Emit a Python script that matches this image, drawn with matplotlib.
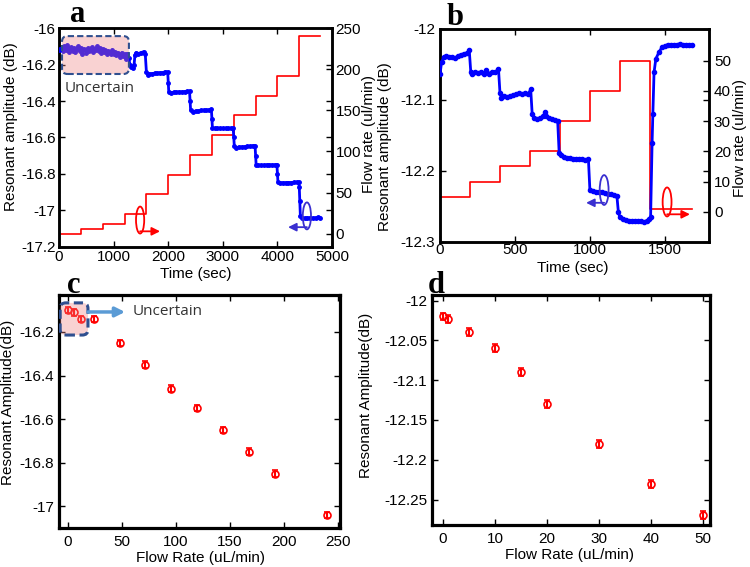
import numpy as np
import matplotlib
matplotlib.use("Agg")
import matplotlib.pyplot as plt
from matplotlib.patches import FancyBboxPatch, Ellipse
from matplotlib.ticker import FormatStrFormatter

plt.rcParams['font.family'] = ['Liberation Sans', 'DejaVu Sans']
plt.rcParams['font.size'] = 11

# ---- panel a: time trace, 0-4800 s ----
time_a = [0, 25, 50, 75, 100, 125, 150, 175, 200, 225, 250, 275, 300, 325, 350, 375,
          400, 425, 450, 475, 500, 525, 550, 575, 600, 625, 650, 675, 700, 725, 750,
          775, 800, 825, 850, 875, 900, 925, 950, 975, 1000, 1025, 1050, 1075, 1100,
          1125, 1150, 1175, 1200, 1225, 1250, 1275, 1300, 1325, 1350, 1375, 1390, 1410,
          1450, 1500, 1550, 1580, 1600, 1625, 1650, 1700, 1750, 1800, 1850, 1900, 1950,
          1990, 2000, 2010, 2050, 2100, 2150, 2200, 2250, 2300, 2350, 2390, 2400, 2410,
          2450, 2500, 2550, 2600, 2650, 2700, 2750, 2790, 2800, 2810, 2850, 2900, 2950,
          3000, 3050, 3100, 3150, 3190, 3200, 3210, 3250, 3300, 3350, 3400, 3450, 3500,
          3550, 3590, 3600, 3610, 3650, 3700, 3750, 3800, 3850, 3900, 3950, 3990, 4000,
          4010, 4050, 4100, 4150, 4200, 4250, 4300, 4350, 4390, 4400, 4410, 4420, 4450,
          4500, 4550, 4600, 4650, 4700, 4750, 4780]
amp_a = [-16.12, -16.115, -16.11, -16.125, -16.10, -16.12, -16.095, -16.13, -16.11, -16.105,
         -16.125, -16.11, -16.13, -16.115, -16.10, -16.125, -16.11, -16.14, -16.115, -16.12,
         -16.135, -16.11, -16.125, -16.12, -16.105, -16.13, -16.115, -16.12, -16.10, -16.125,
         -16.11, -16.135, -16.115, -16.13, -16.12, -16.14, -16.125, -16.13, -16.145, -16.12,
         -16.14, -16.13, -16.15, -16.135, -16.14, -16.16, -16.135, -16.155, -16.145, -16.17,
         -16.14, -16.165, -16.20, -16.215, -16.22, -16.20, -16.15, -16.135,
         -16.14, -16.135, -16.13, -16.145, -16.24, -16.255, -16.25, -16.25, -16.248, -16.247,
         -16.245, -16.244, -16.24, -16.24, -16.30, -16.35, -16.355, -16.352, -16.352, -16.35,
         -16.35, -16.348, -16.347, -16.345, -16.40, -16.45, -16.458, -16.455, -16.455, -16.452,
         -16.452, -16.45, -16.448, -16.445, -16.50, -16.548, -16.55, -16.55, -16.55, -16.55,
         -16.55, -16.55, -16.55, -16.55, -16.60, -16.645, -16.655, -16.652, -16.652, -16.65,
         -16.648, -16.648, -16.645, -16.645, -16.70, -16.748, -16.752, -16.752, -16.752, -16.75,
         -16.75, -16.75, -16.75, -16.748, -16.80, -16.845, -16.848, -16.848, -16.848, -16.847,
         -16.847, -16.846, -16.845, -16.845, -16.87, -16.95, -17.03, -17.04, -17.042, -17.04,
         -17.04, -17.042, -17.04, -17.038, -17.04]
flow_time_a = [0, 400, 800, 1200, 1600, 2000, 2400, 2800, 3200, 3600, 4000, 4400, 4780]
flow_a = [0, 6, 12, 24, 48, 72, 96, 120, 144, 168, 192, 240, 240]

# ---- panel b: time trace, 0-1680 s ----
time_b = [0, 10, 25, 40, 60, 80, 100, 120, 140, 160, 180, 195, 205, 215, 235, 255, 275, 295,
          310, 330, 350, 370, 390, 400, 410, 430, 450, 470, 490, 510, 530, 550, 570, 590,
          605, 615, 630, 650, 670, 690, 700, 710, 730, 750, 770, 785, 795, 810, 830, 850,
          870, 890, 910, 930, 950, 970, 990, 1000, 1020, 1040, 1060, 1080, 1100, 1120,
          1140, 1160, 1180, 1190, 1200, 1220, 1240, 1260, 1280, 1300, 1320, 1340, 1360,
          1380, 1395, 1405, 1415, 1420, 1428, 1440, 1460, 1480, 1500, 1520, 1540, 1560,
          1580, 1600, 1620, 1640, 1660, 1680]
amp_b = [-12.064, -12.047, -12.04, -12.038, -12.040, -12.039, -12.041, -12.038, -12.036,
         -12.035, -12.034, -12.03, -12.06, -12.064, -12.06, -12.062, -12.06, -12.063, -12.058,
         -12.063, -12.060, -12.061, -12.056, -12.09, -12.097, -12.095, -12.096, -12.094,
         -12.093, -12.092, -12.090, -12.091, -12.090, -12.091, -12.085, -12.12, -12.125,
         -12.127, -12.125, -12.123, -12.117, -12.123, -12.125, -12.127, -12.128, -12.13,
         -12.175, -12.177, -12.18, -12.182, -12.182, -12.183, -12.183, -12.183, -12.183,
         -12.184, -12.183, -12.227, -12.228, -12.229, -12.230, -12.230, -12.231, -12.232,
         -12.233, -12.234, -12.235, -12.258, -12.265, -12.268, -12.269, -12.270, -12.270,
         -12.270, -12.271, -12.270, -12.272, -12.270, -12.268, -12.265, -12.16, -12.12,
         -12.061, -12.042, -12.033, -12.026, -12.024, -12.022, -12.023, -12.022, -12.022,
         -12.021, -12.022, -12.022, -12.023, -12.022]
flow_time_b = [0, 200, 400, 600, 800, 1000, 1200, 1400, 1680]
flow_b = [5, 10, 15, 20, 30, 40, 50, 1, 1]

# ---- panel c / d: amplitude vs flow rate ----
rate_c = [0, 6, 12, 24, 48, 72, 96, 120, 144, 168, 192, 240]
amp_c = [-16.10, -16.11, -16.14, -16.14, -16.25, -16.35, -16.46, -16.55, -16.65, -16.75, -16.85, -17.04]
err_c = [0.015] * len(rate_c)
rate_d = [0, 1, 5, 10, 15, 20, 30, 40, 50]
amp_d = [-12.02, -12.023, -12.04, -12.06, -12.09, -12.13, -12.18, -12.23, -12.27]
err_d = [0.005] * len(rate_d)

RED = '#ff0000'
BLUE = '#0000ff'
PINK = '#f08080'
BOXEDGE = '#2f4f8f'

fig = plt.figure(figsize=(7.5, 5.67), dpi=100)


def style(ax, xpad=3.5, ypad=3.5):
    for s in ax.spines.values():
        s.set_linewidth(1.8)
    ax.tick_params(direction='in', top=True, right=True, length=4, width=1, labelsize=11)
    ax.tick_params(axis='x', pad=xpad)
    ax.tick_params(axis='y', pad=ypad)


def ellipse_arrow(ax, cx, cy, w, h, x_end, color):
    ax.add_patch(Ellipse((cx, cy), w, h, transform=ax.transAxes, fill=False,
                         edgecolor=color, lw=1.3, zorder=6, clip_on=False))
    y0 = cy - h / 2 + 0.01
    ax.annotate('', xy=(x_end, y0), xytext=(cx, y0), xycoords='axes fraction',
                arrowprops=dict(arrowstyle='-|>', color=color, lw=1.3,
                                mutation_scale=12, shrinkA=0, shrinkB=0), zorder=6)


def uncertain_box(ax, x0, y0, x1, y1, aspect, lw):
    box = FancyBboxPatch((x0, y0), x1 - x0, y1 - y0, transform=ax.transAxes,
                         boxstyle='round,pad=0,rounding_size=0.02', mutation_aspect=aspect,
                         facecolor=PINK, alpha=0.35, edgecolor='none', zorder=5)
    ax.add_patch(box)
    edge = FancyBboxPatch((x0, y0), x1 - x0, y1 - y0, transform=ax.transAxes,
                          boxstyle='round,pad=0,rounding_size=0.02', mutation_aspect=aspect,
                          facecolor='none', edgecolor=BOXEDGE, lw=lw, ls=(0, (3, 1.5)), zorder=6)
    ax.add_patch(edge)


# ---------------- a ----------------
ax_a = fig.add_axes([0.0787, 0.5644, 0.364, 0.3862])
ax_a2 = ax_a.twinx()
ax_a.plot(time_a, amp_a, '-', color=BLUE, lw=2, marker='.', ms=5, zorder=3)
ax_a2.step(flow_time_a, flow_a, where='post', color=RED, lw=1.2)
ax_a.set_xlim(0, 5000)
ax_a.set_ylim(-17.2, -16)
ax_a.set_xticks(np.arange(0, 5001, 1000))
ax_a.set_yticks(np.arange(-17.2, -15.99, 0.2))
ax_a.yaxis.set_major_formatter(FormatStrFormatter('%g'))
ax_a2.set_ylim(-16, 250)
ax_a2.set_yticks(np.arange(0, 251, 50))
style(ax_a, xpad=2, ypad=2.5)
style(ax_a2, ypad=2.5)
ax_a.set_zorder(ax_a2.get_zorder() + 1)
ax_a.patch.set_visible(False)
ax_a.set_xlabel('Time (sec)')
ax_a.set_ylabel('Resonant amplitude (dB)')
ax_a2.set_ylabel('Flow rate (ul/min)')
ax_a.xaxis.set_label_coords(0.5, -0.092)
ax_a.yaxis.set_label_coords(-0.150, 0.55)
ax_a2.yaxis.set_label_coords(1.11, 0.516)
uncertain_box(ax_a, 0.011, 0.79, 0.256, 0.963, 273 / 219, 1.5)
ax_a.text(0.022, 0.726, 'Uncertain', transform=ax_a.transAxes, family='Open Sans',
          fontsize=11, color='#333333', va='center', ha='left', zorder=7)
ellipse_arrow(ax_a, 0.297, 0.123, 0.03, 0.123, 0.37, RED)
ellipse_arrow(ax_a, 0.908, 0.142, 0.03, 0.123, 0.839, '#3a2fd0')

# ---------------- b ----------------
ax_b = fig.add_axes([0.5867, 0.5732, 0.3587, 0.3757])
ax_b2 = ax_b.twinx()
ax_b.plot(time_b, amp_b, '-', color=BLUE, lw=2, marker='.', ms=6, zorder=3)
ax_b2.step(flow_time_b, flow_b, where='post', color=RED, lw=1.2)
ax_b.set_xlim(0, 1795)
ax_b.set_ylim(-12.3, -12.0)
ax_b.set_xticks([0, 500, 1000, 1500])
ax_b.set_yticks([-12.3, -12.2, -12.1, -12.0])
ax_b.yaxis.set_major_formatter(FormatStrFormatter('%g'))
ax_b2.set_ylim(-10, 60.5)
ax_b2.set_yticks(np.arange(0, 51, 10))
style(ax_b, xpad=1)
style(ax_b2)
ax_b.set_zorder(ax_b2.get_zorder() + 1)
ax_b.patch.set_visible(False)
ax_b.set_xlabel('Time (sec)')
ax_b.set_ylabel('Resonant amplitude (dB)')
ax_b2.set_ylabel('Flow rate (ul/min)')
ax_b.xaxis.set_label_coords(0.495, -0.089)
ax_b.yaxis.set_label_coords(-0.178, 0.45)
ax_b2.yaxis.set_label_coords(1.089, 0.49)
ellipse_arrow(ax_b, 0.61, 0.244, 0.033, 0.14, 0.543, '#3a2fd0')
ellipse_arrow(ax_b, 0.844, 0.188, 0.033, 0.136, 0.929, RED)

# ---------------- c ----------------
ax_c = fig.add_axes([0.0787, 0.0688, 0.3747, 0.411])
ax_c.errorbar(rate_c, amp_c, yerr=err_c, fmt='o', color=RED, mfc='none', ms=5,
              mew=1.2, elinewidth=1.5, capsize=2, zorder=3)
ax_c.set_xlim(-8, 252)
ax_c.set_ylim(-17.1, -16.03)
ax_c.set_xticks(np.arange(0, 251, 50))
ax_c.set_yticks([-17.0, -16.8, -16.6, -16.4, -16.2])
ax_c.yaxis.set_major_formatter(FormatStrFormatter('%g'))
style(ax_c, xpad=5)
for s in ax_c.spines.values():
    s.set_linewidth(2.3)
ax_c.set_xlabel('Flow Rate (uL/min)')
ax_c.set_ylabel('Resonant Amplitude(dB)')
ax_c.xaxis.set_label_coords(0.502, -0.099)
ax_c.yaxis.set_label_coords(-0.157, 0.54)
uncertain_box(ax_c, 0.004, 0.828, 0.103, 0.966, 281 / 233, 2.2)
ax_c.annotate('', xy=(0.235, 0.927), xytext=(0.103, 0.927), xycoords='axes fraction',
              arrowprops=dict(arrowstyle='-|>', color='#5b9bd5', lw=2.5,
                              mutation_scale=14, shrinkA=0, shrinkB=0), zorder=6)
ax_c.text(0.263, 0.927, 'Uncertain', transform=ax_c.transAxes, family='Open Sans',
          fontsize=11, color='#333333', va='center', ha='left')

# ---------------- d ----------------
ax_d = fig.add_axes([0.576, 0.0741, 0.3707, 0.4056])
ax_d.errorbar(rate_d, amp_d, yerr=err_d, fmt='o', color=RED, mfc='none', ms=5,
              mew=1.2, elinewidth=1.5, capsize=2, zorder=3)
ax_d.set_xlim(-2.1, 51.3)
ax_d.set_ylim(-12.282, -11.993)
ax_d.set_xticks(np.arange(0, 51, 10))
ax_d.set_yticks([-12.25, -12.2, -12.15, -12.1, -12.05, -12.0])
ax_d.yaxis.set_major_formatter(FormatStrFormatter('%g'))
style(ax_d, xpad=5)
for s in ax_d.spines.values():
    s.set_linewidth(2.3)
ax_d.set_xlabel('Flow Rate (uL/min)')
ax_d.set_ylabel('Resonant Amplitude(dB)')
ax_d.xaxis.set_label_coords(0.496, -0.1)
ax_d.yaxis.set_label_coords(-0.212, 0.565)

# panel letters
for letter, x, y in [('a', 70, 22), ('b', 447, 25), ('c', 67, 293), ('d', 428, 293)]:
    fig.text(x / 750, 1 - y / 567, letter, family='Liberation Serif', fontweight='bold',
             fontsize=22, ha='left', va='baseline')

plt.savefig('out.png', dpi=100)
